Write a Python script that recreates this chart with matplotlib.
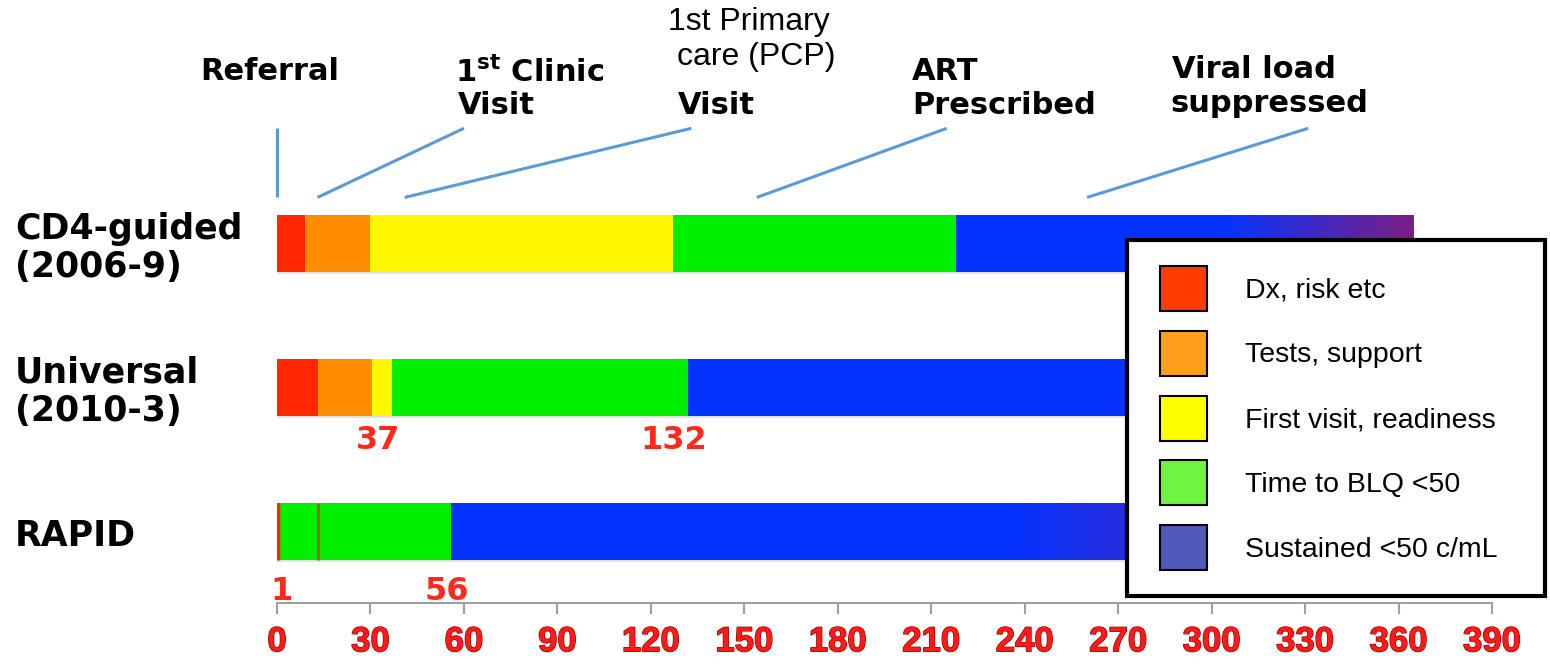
import matplotlib.pyplot as plt
import matplotlib.patheffects as pe
import matplotlib.transforms as mtransforms
import numpy as np
from matplotlib.patches import Patch, Rectangle
from matplotlib.legend_handler import HandlerPatch
from matplotlib.colors import LinearSegmentedColormap

W, H = 1550, 664

rows = ['CD4-guided\n(2006-9)', 'Universal\n(2010-3)', 'RAPID']
stages = ['Dx, risk etc', 'Tests, support', 'First visit, readiness',
          'Time to BLQ <50', 'Sustained <50 c/mL']

# day at which each stage ends, one list per cohort
cd4_ends = [9, 30, 127, 218, 365]
universal_ends = [13, 30.5, 37, 132, 365]
rapid_ends = [1, 1, 1, 56, 365]
rapid_mark = 13

universal_labels = [37, 132]
rapid_labels = [1, 56]

day_ticks = list(range(0, 391, 30))

bar_colors = ['#ff2600', '#ff8c00', '#fff700', '#00f000', '#0433ff']
legend_colors = ['#ff3c00', '#ff9f1c', '#ffff00', '#6ef542', '#5058b8']

fig = plt.figure(figsize=(W / 100, H / 100), dpi=100)
ax = fig.add_axes([277 / W, 61 / H, 1215 / W, 603 / H])

bar_h = 0.396
fade = LinearSegmentedColormap.from_list(
    'fade', [(0, '#0433ff'), (0.58, '#0433ff'), (1, '#7a1f86')])
grad = np.linspace(0, 1, 256).reshape(1, -1)

for i, ends in enumerate([cd4_ends, universal_ends, rapid_ends]):
    starts = [0] + ends[:-1]
    # faint shadow under the bar
    ax.barh(i + 0.015, ends[-1], height=bar_h, color='#e2e2e2', zorder=1)
    for s, e, c in zip(starts, ends, bar_colors):
        if e > s:
            bars = ax.barh(i, e - s, left=s, height=bar_h, color=c, zorder=2)
    # blue stage fades to purple toward its end
    im = ax.imshow(grad, cmap=fade, aspect='auto', zorder=3,
                   extent=[starts[-1], ends[-1], i + bar_h, i - bar_h])
    im.set_clip_path(bars.patches[0])

ax.vlines(rapid_mark, 2 - bar_h / 2, 2 + bar_h / 2, color='#b8551a', lw=2, zorder=4)
ax.vlines(0.4, 2 - bar_h / 2, 2 + bar_h / 2, color='#ff2600', lw=2.5, zorder=4)

ax.set_xlim(0, 390)
ax.set_ylim(2.4965, -1.691)

# value labels under the bars
red = '#ff2a1a'
for v in universal_labels:
    ax.text(v - 4.7, 1 + bar_h / 2 + 0.167, str(v), color=red, fontsize=23,
            fontweight='bold', ha='center', va='center')
for v in rapid_labels:
    ax.text(v + (0.6 if v < 5 else -1.4), 2 + bar_h / 2 + 0.22, str(v), color=red,
            fontsize=23, fontweight='bold', ha='center', va='center')

# row names
tr = mtransforms.blended_transform_factory(fig.transFigure, ax.transData)
for i, r in enumerate(rows):
    ax.text(15 / W, i + 0.03, r, transform=tr, fontsize=25, fontweight='bold',
            ha='left', va='center', linespacing=1.15)

# milestone leader lines
leaders = [((0, -0.32), (0, -0.80)),
           ((13, -0.32), (60, -0.80)),
           ((41, -0.32), (133, -0.80)),
           ((154, -0.32), (215, -0.80)),
           ((260, -0.32), (331, -0.80))]
for (x0, y0), (x1, y1) in leaders:
    ax.plot([x0, x1], [y0, y1], color='#5b9bd5', lw=2.2, clip_on=False,
            solid_capstyle='butt')


def ftext(x, y, s, **kw):
    fig.text(x / W, 1 - y / H, s, va='center', ha='left', **kw)


bold = dict(fontsize=22, fontweight='bold')
plain = dict(fontsize=23, family='Liberation Sans')
ftext(200, 72, 'Referral', **bold)
ftext(455, 72, r'1$^{\bf st}$ Clinic', **bold)
ftext(458, 105, 'Visit', **bold)
ftext(668, 22, '1st Primary', **plain)
ftext(677, 57, 'care (PCP)', **plain)
ftext(678, 105, 'Visit', **bold)
ftext(912, 72, 'ART', **bold)
ftext(912, 105, 'Prescribed', **bold)
ftext(1172, 70, 'Viral load', **bold)
ftext(1170, 103, 'suppressed', **bold)

# axis styling
for side in ['left', 'top', 'right']:
    ax.spines[side].set_visible(False)
ax.spines['bottom'].set_color('#a0a0a0')
ax.spines['bottom'].set_linewidth(1.5)
ax.set_yticks([])
ax.set_xticks(day_ticks)
ax.tick_params(axis='x', length=8, width=1.5, color='#a0a0a0', pad=8,
               labelsize=25, labelcolor='#ff1a1a')
for lab in ax.get_xticklabels():
    lab.set_family('Liberation Sans')
    lab.set_fontweight('bold')
    lab.set_path_effects([pe.withStroke(linewidth=1.0, foreground='#9b0000')])


def legend_box(legend, orig_handle, xdescent, ydescent, width, height, fontsize):
    # square swatch pushed to the right end of the handle area
    side = 47 * 72 / 100
    return Rectangle((width - side - xdescent, -ydescent), side, height)


handles = [Patch(facecolor=c, edgecolor='black', linewidth=1.5) for c in legend_colors]
leg = ax.legend(handles, stages, loc='upper left', mode='expand',
                bbox_to_anchor=(1127 / W, 68 / H, 418 / W, 356 / H),
                bbox_transform=fig.transFigure, borderaxespad=0,
                fancybox=False, framealpha=1, edgecolor='black',
                prop={'family': 'Liberation Sans', 'size': 20.5},
                handler_map={Patch: HandlerPatch(patch_func=legend_box)},
                handlelength=1.91, handleheight=2.055, labelspacing=0.70,
                borderpad=0.9, handletextpad=1.35)
leg.get_frame().set_linewidth(3)
leg.set_zorder(10)

fig.savefig('out.png', dpi=100)
